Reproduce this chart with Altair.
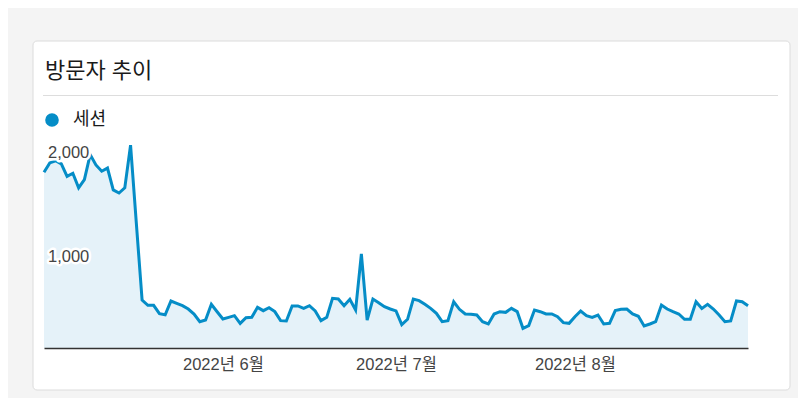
import altair as alt
import pandas as pd

# ---- data -------------------------------------------------------------
start_date = "2022-05-01"
end_date = "2022-08-31"
sessions = [
    1690, 1780, 1800, 1770, 1650, 1680, 1540, 1620, 1860, 1760,
    1700, 1730, 1520, 1490, 1540, 1950, 1200, 460, 410, 410,
    330, 320, 452, 429, 407, 375, 327, 253, 269, 420,
    349, 279, 295, 311, 237, 292, 295, 391, 359, 388,
    350, 263, 260, 404, 404, 381, 407, 356, 263, 295,
    478, 471, 407, 468, 365, 904, 269, 471, 436, 397,
    375, 357, 225, 276, 471, 455, 420, 381, 333, 253,
    263, 445, 372, 327, 324, 317, 253, 231, 327, 349,
    343, 381, 350, 189, 215, 365, 349, 327, 327, 301,
    244, 237, 301, 356, 311, 295, 317, 231, 237, 359,
    372, 375, 327, 305, 212, 231, 253, 413, 375, 349,
    327, 276, 276, 445, 381, 420, 375, 317, 253, 260,
    452, 445, 407,
]
y_grid_values = [0, 500, 1000, 1500, 2000]
y_label_values = [1000, 2000]
x_label_months = [6, 7, 8]
title_text = ["방문자 추이"]
legend_text = ["세션"]

dates = pd.date_range(start_date, end_date, freq="D").strftime("%Y-%m-%d")
df = pd.DataFrame({"date": dates, "sessions": sessions})
df_ylab = pd.DataFrame({"v": y_label_values})
one = pd.DataFrame({"k": [0]})

LINE = "#058DC7"
FILL = "#e5f2f9"
FONT = "Liberation Sans, Noto Sans CJK KR"

x_scale = alt.Scale(
    type="utc",
    domain=[alt.DateTime(year=2022, month=5, date=1, utc=True),
            alt.DateTime(year=2022, month=8, date=31, utc=True)],
)
y_scale = alt.Scale(domain=[0, 2000], nice=False, zero=True)

# ---- decorations (card, title, rule, legend) --------------------------
card = alt.Chart(one).mark_rect(
    fill="white", stroke="#dcdcdc", strokeWidth=1, cornerRadius=4
).encode(x=alt.value(-11), x2=alt.value(746), y=alt.value(-99), y2=alt.value(250))

title = alt.Chart(pd.DataFrame({"t": title_text})).mark_text(
    align="left", baseline="middle", fontSize=22, font=FONT, color="#1a1a1a"
).encode(x=alt.value(1), y=alt.value(-69), text="t:N")

hr = alt.Chart(one).mark_rule(color="#dddddd", strokeWidth=1).encode(
    x=alt.value(-1), x2=alt.value(734), y=alt.value(-44.5)
)

legend_dot = alt.Chart(one).mark_point(
    filled=True, shape="circle", size=185, color=LINE, opacity=1
).encode(x=alt.value(8), y=alt.value(-20))

legend_lab = alt.Chart(pd.DataFrame({"t": legend_text})).mark_text(
    align="left", baseline="middle", fontSize=18, font=FONT, color="#1a1a1a"
).encode(x=alt.value(29), y=alt.value(-20), text="t:N")

# ---- data marks -------------------------------------------------------
x_enc = alt.X(
    "date:T",
    scale=x_scale,
    axis=alt.Axis(
        title=None,
        values=[alt.DateTime(year=2022, month=m, date=1, utc=True) for m in x_label_months],
        labelExpr="utcFormat(datum.value, '%Y년 %-m월')",
        grid=False,
        ticks=False,
        domain=True,
        domainColor="#333333",
        domainWidth=1.5,
        labelFont=FONT,
        labelFontSize=16.5,
        labelColor="#444444",
        labelPadding=8,
        labelFlush=False,
        labelOverlap=False,
        zindex=1,
    ),
)
y_enc = alt.Y(
    "sessions:Q",
    scale=y_scale,
    axis=alt.Axis(
        title=None,
        values=y_grid_values,
        labels=False,
        ticks=False,
        domain=False,
        grid=True,
        gridColor="#e8e8e8",
        gridWidth=1,
        zindex=1,
    ),
)

base = alt.Chart(df)
area = base.mark_area(color=FILL, opacity=1).encode(x=x_enc, y=y_enc)
line = base.mark_line(color=LINE, strokeWidth=3, strokeJoin="miter").encode(
    x=alt.X("date:T", scale=x_scale), y=alt.Y("sessions:Q", scale=y_scale)
)

ylab_halo = alt.Chart(df_ylab).mark_text(
    align="left", baseline="top", dy=5, fontSize=16.5, font=FONT,
    color="white", stroke="white", strokeWidth=5, strokeJoin="round",
).encode(
    x=alt.value(4),
    y=alt.Y("v:Q", scale=y_scale, axis=None),
    text=alt.Text("v:Q", format=","),
)
ylab = alt.Chart(df_ylab).mark_text(
    align="left", baseline="top", dy=5, fontSize=16.5, font=FONT, color="#444444"
).encode(
    x=alt.value(4),
    y=alt.Y("v:Q", scale=y_scale, axis=None),
    text=alt.Text("v:Q", format=","),
)

chart = alt.layer(
    card, title, hr, legend_dot, legend_lab, area, line, ylab_halo, ylab
).properties(
    width=704,
    height=208,
    padding={"left": 36, "top": 132, "right": 50, "bottom": 50},
    autosize=alt.AutoSizeParams(type="none"),
    background="#f4f4f4",
).configure_view(stroke=None)

chart.save("out.html", embed_options={"renderer": "svg", "actions": False})
